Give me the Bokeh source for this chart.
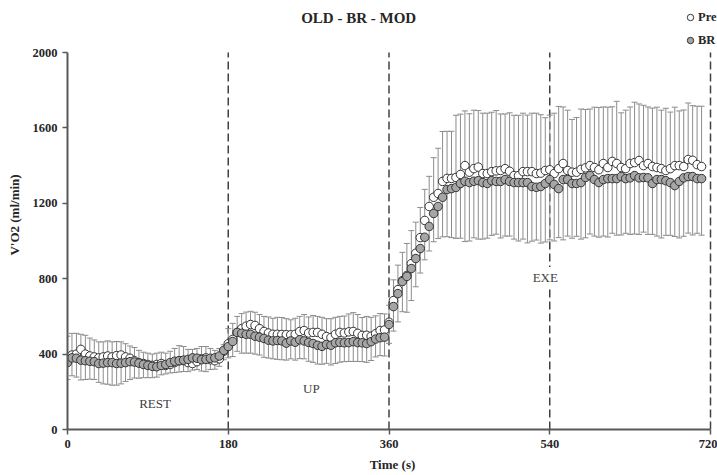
from bokeh.plotting import figure
from bokeh.models import (ColumnDataSource, Range1d, Whisker, TeeHead, Label,
                          Legend, LegendItem, FixedTicker)
from bokeh.embed import file_html
from bokeh.resources import INLINE

# ---------------- data ----------------
time_s = list(range(0, 715, 5))

pre_rest = [385, 395, 400, 425, 400, 390, 385, 380, 385, 390, 385, 392, 395, 385, 378, 365,
            355, 350, 345, 340, 345, 350, 340, 345, 355, 365, 365, 355, 350, 360, 375, 380,
            370, 365, 375, 415]
pre_up = [455, 478, 515, 535, 548, 557, 552, 535, 520, 512, 505, 505, 504, 503, 502, 505,
          520, 525, 512, 515, 515, 505, 493, 488, 505, 515, 512, 518, 520, 510, 499, 500,
          495, 508, 525, 528]
pre_exe = [569, 684, 742, 790, 817, 880, 935, 1018, 1109, 1183, 1232, 1252, 1316, 1332, 1332,
           1337, 1353, 1400, 1365, 1384, 1392, 1358, 1358,
           1368, 1372, 1374, 1384, 1370, 1347, 1347, 1368, 1368, 1368, 1358, 1360, 1374, 1378,
           1358, 1384, 1411, 1374, 1365, 1365, 1380, 1388, 1400, 1390, 1378,
           1411, 1390, 1422, 1411, 1390, 1384, 1411, 1416, 1427, 1400, 1411, 1395, 1390, 1384,
           1374, 1384, 1400, 1400, 1395, 1432, 1428, 1405, 1395]
pre_vo2 = pre_rest + pre_up + pre_exe

br_rest = [355, 380, 378, 368, 365, 362, 360, 350, 352, 355, 355, 350, 352, 355, 360, 358,
           352, 345, 340, 335, 333, 340, 345, 355, 362, 365, 368, 372, 380, 378, 370, 372,
           378, 380, 390, 420]
br_up = [440, 467, 515, 510, 505, 505, 495, 490, 483, 474, 470, 472, 470, 458, 470, 463,
         476, 470, 462, 456, 447, 441, 451, 447, 460, 462, 460, 461, 466, 461, 460, 456,
         466, 480, 487, 490]
br_exe = [557, 652, 721, 785, 812, 854, 907, 960, 1020, 1077, 1146, 1183, 1232, 1273, 1278,
          1284, 1305, 1317, 1310, 1317, 1320, 1310, 1305,
          1320, 1316, 1316, 1326, 1316, 1310, 1310, 1310, 1310, 1289, 1285, 1289, 1305, 1326,
          1300, 1278, 1326, 1326, 1305, 1305, 1310, 1337, 1347, 1326, 1310,
          1326, 1331, 1331, 1331, 1342, 1331, 1335, 1347, 1335, 1337, 1335, 1305, 1326, 1326,
          1320, 1310, 1294, 1316, 1335, 1342, 1342, 1331, 1331]
br_vo2 = br_rest + br_up + br_exe

pre_sd_rest = [110, 115, 110, 80, 100, 95, 90, 85, 80, 80, 80, 75, 70, 70, 65, 70, 65, 60,
               60, 60, 60, 60, 65, 70, 75, 80, 75, 70, 75, 70, 65, 60, 60, 55, 55, 35]
pre_sd_up = [80, 85, 85, 80, 75, 70, 70, 75, 80, 85, 85, 90, 90, 85, 80, 85, 80, 85, 85, 90,
             85, 90, 95, 100, 90, 85, 90, 95, 100, 100, 95, 100, 100, 95, 90, 85]
pre_sd_exe = [90, 110, 130, 150, 170, 175, 165, 160, 165, 160, 210, 240, 265, 250, 250, 330,
              320, 290, 310, 310, 300, 320, 320,
              315, 320, 300, 290, 310, 320, 320, 310, 300, 310, 320, 310, 280, 290, 320, 330,
              300, 320, 280, 290, 320, 310, 300, 320, 330,
              300, 320, 290, 330, 290, 310, 300, 320, 300, 320, 300, 310, 320, 310, 330, 300,
              310, 290, 300, 300, 290, 310, 320]
pre_sd = pre_sd_rest + pre_sd_up + pre_sd_exe

br_sd_rest = [90, 95, 100, 105, 100, 95, 95, 100, 110, 115, 120, 115, 110, 100, 95, 85, 80,
              70, 65, 60, 55, 50, 50, 55, 60, 60, 60, 65, 65, 60, 60, 65, 60, 60, 55, 50]
br_sd_up = [60, 80, 100, 105, 100, 100, 95, 95, 100, 95, 95, 100, 100, 90, 95, 95, 100, 95,
            100, 100, 100, 95, 100, 105, 110, 105, 100, 100, 105, 100, 100, 100, 100, 95, 95, 100]
br_sd_exe = [100, 130, 150, 160, 190, 170, 150, 130, 120, 130, 150, 170, 210, 250, 260, 270,
             290, 320, 310, 300, 310, 300, 290,
             290, 280, 300, 300, 290, 300, 310, 300, 320, 290, 280, 300, 310, 320, 300, 260,
             320, 300, 290, 280, 300, 320, 310, 300, 290,
             300, 310, 290, 300, 310, 290, 300, 310, 300, 290, 300, 270, 300, 310, 290, 280,
             270, 300, 310, 300, 310, 290, 300]
br_sd = br_sd_rest + br_sd_up + br_sd_exe

phase_bounds = [180, 360, 540, 720]
phase_names = ["REST", "UP", "EXE"]
phase_label_x = [98, 273, 535]
phase_label_y = [138, 217, 806]
x_ticks = [0, 180, 360, 540, 720]
y_ticks = [0, 400, 800, 1200, 1600, 2000]
x_max = 720
y_max = 2000
title_text = "OLD - BR - MOD"

# ---------------- sources ----------------
pre_src = ColumnDataSource(dict(
    t=time_s, v=pre_vo2,
    lo=pre_vo2,
    hi=[v + s for v, s in zip(pre_vo2, pre_sd)]))
br_src = ColumnDataSource(dict(
    t=time_s, v=br_vo2,
    lo=[v - s for v, s in zip(br_vo2, br_sd)],
    hi=br_vo2))
bound_src = ColumnDataSource(dict(x=phase_bounds, y0=[0] * len(phase_bounds),
                                  y1=[y_max] * len(phase_bounds)))

SERIF = "Liberation Serif"
AXC = "#595959"

# The frame covers the whole canvas above / right of the axes; the axes are bounded to
# the data extent so the title and legend strip lies inside the frame (not clipped).
FRAME_H = 429.0      # px from canvas top to the x axis
PX_0_2000 = 377.0    # px between y=0 and y=2000
FRAME_W = 650.0      # px from the y axis to the canvas right edge
PX_0_720 = 643.0     # px between x=0 and x=720
y_top = y_max * FRAME_H / PX_0_2000
x_right = x_max * FRAME_W / PX_0_720

p = figure(width=717, height=475, output_backend="svg", toolbar_location=None,
           x_range=Range1d(0, x_right), y_range=Range1d(0, y_top),
           min_border_left=67, min_border_right=0, min_border_top=0, min_border_bottom=46)
p.outline_line_color = None
p.xgrid.visible = False
p.ygrid.visible = False
p.background_fill_color = "white"
p.border_fill_color = "white"

for ax in (p.xaxis[0], p.yaxis[0]):
    ax.axis_line_color = AXC
    ax.axis_line_width = 2
    ax.major_tick_line_color = AXC
    ax.major_tick_line_width = 1.5
    ax.major_tick_out = 5
    ax.major_tick_in = 0
    ax.minor_tick_line_color = None
    ax.major_label_text_font = SERIF
    ax.major_label_text_font_style = "bold"
    ax.major_label_text_font_size = "12.5px"
    ax.major_label_text_color = "#262626"
    ax.axis_label_text_font = SERIF
    ax.axis_label_text_font_style = "bold"
    ax.axis_label_text_font_size = "13px"
    ax.axis_label_text_color = "#262626"

p.yaxis.bounds = (0, y_max)
p.xaxis.bounds = (0, x_max)
p.xaxis.ticker = FixedTicker(ticks=x_ticks)
p.yaxis.ticker = FixedTicker(ticks=y_ticks)
p.xaxis.axis_label = "Time (s)"
p.yaxis.axis_label = "V'O2 (ml/min)"
p.xaxis.axis_label_standoff = 6
p.yaxis.axis_label_standoff = 8
p.xaxis.major_label_standoff = 5
p.yaxis.major_label_standoff = 5

p.segment(x0="x", y0="y0", x1="x", y1="y1", source=bound_src, line_color="#404040",
          line_width=1.5, line_dash="8 4", level="underlay")

for name, lx, ly in zip(phase_names, phase_label_x, phase_label_y):
    p.add_layout(Label(x=lx, y=ly, text=name, text_align="center", text_baseline="middle",
                       text_font=SERIF, text_font_size="13px", text_color="#404040",
                       background_fill_color="white", padding=3))

BARC = "#8c8c8c"
p.add_layout(Whisker(source=pre_src, base="t", lower="lo", upper="hi",
                     line_color=BARC, line_width=1,
                     upper_head=TeeHead(size=6, line_color=BARC, line_width=1),
                     lower_head=None, level="underlay"))
p.add_layout(Whisker(source=br_src, base="t", lower="lo", upper="hi",
                     line_color=BARC, line_width=1,
                     lower_head=TeeHead(size=6, line_color=BARC, line_width=1),
                     upper_head=None, level="underlay"))

r_pre = p.scatter("t", "v", source=pre_src, size=8.5, marker="circle",
                  fill_color="white", line_color="#333333", line_width=1)
r_br = p.scatter("t", "v", source=br_src, size=8.5, marker="circle",
                 fill_color="#a6a6a6", line_color="#333333", line_width=1)

legend = Legend(items=[LegendItem(label="Pre", renderers=[r_pre]),
                       LegendItem(label="BR", renderers=[r_br])],
                location=(615, 379), orientation="vertical",
                padding=0, margin=0, spacing=3, glyph_width=16, glyph_height=18,
                label_height=20, label_standoff=0,
                label_text_font=SERIF, label_text_font_style="bold",
                label_text_font_size="12.5px", label_text_color="#262626",
                border_line_color=None, background_fill_alpha=0)
p.add_layout(legend)

p.add_layout(Label(x=326, y=y_max * (FRAME_H - 17) / PX_0_2000, text=title_text,
                   text_align="center", text_baseline="middle", text_font=SERIF,
                   text_font_style="bold", text_font_size="15px", text_color="#262626"))

open("out.html", "w").write(file_html(p, INLINE))
